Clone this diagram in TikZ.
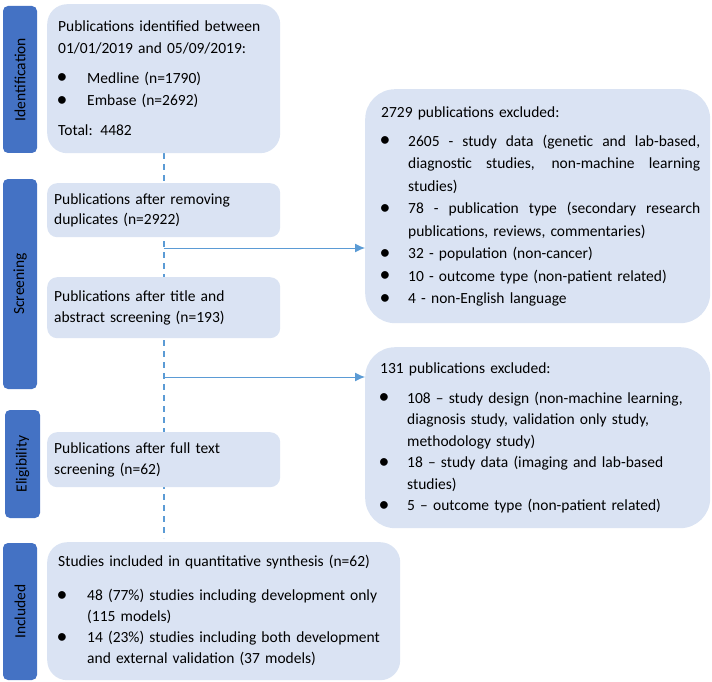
\documentclass[tikz,border=0pt]{standalone}
\usepackage{fontspec}
\setmainfont{Carlito}
\usepackage{tikz}
\usetikzlibrary{shapes,arrows.meta,positioning,calc}

\definecolor{barblue}{HTML}{4472C4}
\definecolor{boxblue}{HTML}{DAE3F3}
\definecolor{lineblue}{HTML}{5B9BD5}

% list pieces used inside a tabular
\newcommand{\bul}{\hspace{-1.5pt}\raisebox{-0.1ex}{\scalebox{1.4}{\textbullet}}}
\newcommand{\hd}[1]{\multicolumn{2}{@{}l@{}}{#1}}
\newcommand{\jline}[1]{{\spaceskip=3.5pt plus 1fil\hbox to 292pt{#1}}}
\newenvironment{boxlist}[1][28pt]{\begin{tabular}{@{}p{#1}@{}l@{}}}{\end{tabular}}

\tikzset{
  stagebar/.style={draw=none, fill=barblue, rounded corners=5pt, rotate=90,
    minimum height=34pt, inner sep=0pt, font=\fontsize{15.5}{18}\selectfont},
  boxtext/.style={execute at begin node={\raggedright\parindent=0pt}},
  bigbox/.style={draw=none, fill=boxblue, anchor=north west, boxtext,
    inner xsep=11pt, inner ysep=0pt, font=\fontsize{15.5}{22.5}\selectfont},
  smallbox/.style={draw=none, fill=boxblue, anchor=north west, boxtext,
    rounded corners=10pt, inner xsep=7pt, inner ysep=0pt,
    text width=219pt, minimum width=233pt, font=\fontsize{15.5}{20.5}\selectfont},
  flowline/.style={draw=lineblue, line width=2pt, dash pattern=on 6pt off 5pt},
  flowarrow/.style={draw=lineblue, line width=1pt, -{Latex[length=10pt,width=9pt]}}
}

\begin{document}
\begin{tikzpicture}[x=1pt, y=-1pt]
  \useasboundingbox (0,0) rectangle (712,682);

  % stage bars
  \node[stagebar, minimum width=147pt] (barid) at (20,79.5) {Identification};
  \node[stagebar, minimum width=210pt] (barscr) at (20,284) {Screening};
  \node[stagebar, minimum width=108pt, minimum height=35pt] (barelig) at (22.5,464) {Eligibility};
  \node[stagebar, minimum width=137pt] (barincl) at (20,611.5) {Included};

  % dashed flow line, drawn behind the boxes
  \coordinate (top) at (163.5,153);
  \coordinate (bottom) at (163.5,538);
  \draw[flowline] (top) -- (bottom);

  \node[bigbox, rounded corners=20pt, text width=211pt, minimum width=233pt,
    minimum height=149pt] (ident) at (47,4) {%
    \begin{boxlist}[29pt]
      \hd{Publications identified between}\\
      \hd{01/01/2019 and 05/09/2019:}\\[7pt]
      \bul & Medline (n=1790)\\
      \bul & Embase (n=2692)\\[7pt]
      \hd{Total: 4482}
    \end{boxlist}};

  \node[smallbox, minimum height=54pt] (dupl) at (47,183) {%
    Publications after removing\\duplicates (n=2922)};

  \node[smallbox, minimum height=61pt] (title) at (47,277) {%
    Publications after title and\\abstract screening (n=193)};

  \node[smallbox, minimum height=55pt] (full) at (47,432) {%
    Publications after full text\\screening (n=62)};

  \node[bigbox, rounded corners=30pt, inner xsep=16pt, text width=313pt,
    minimum width=345pt, minimum height=234pt] (excla) at (365,89) {%
    \begin{boxlist}[27pt]
      \hd{2729 publications excluded:}\\[6pt]
      \bul & \jline{2605 - study data (genetic and lab-based,}\\
           & \jline{diagnostic studies, non-machine learning}\\
           & studies)\\
      \bul & \jline{78 - publication type (secondary research}\\
           & publications, reviews, commentaries)\\
      \bul & 32 - population (non-cancer)\\
      \bul & 10 - outcome type (non-patient related)\\
      \bul & 4 - non-English language
    \end{boxlist}};

  \node[bigbox, rounded corners=30pt, inner xsep=15pt, text width=315pt,
    minimum width=345pt, minimum height=181pt,
    font=\fontsize{15.5}{21.5}\selectfont] (exclb) at (365,347) {%
    \begin{boxlist}[27pt]
      \hd{131 publications excluded:}\\[8pt]
      \bul & 108 -- study design (non-machine learning,\\
           & diagnosis study, validation only study,\\
           & methodology study)\\
      \bul & 18 -- study data (imaging and lab-based\\
           & studies)\\
      \bul & 5 -- outcome type (non-patient related)
    \end{boxlist}};

  \node[bigbox, rounded corners=20pt, text width=331pt, minimum width=353pt,
    minimum height=138pt, font=\fontsize{15.5}{21}\selectfont] (incl) at (47,542) {%
    \begin{boxlist}[29pt]
      \hd{Studies included in quantitative synthesis (n=62)}\\[13pt]
      \bul & 48 (77\%) studies including development only\\
           & (115 models)\\
      \bul & 14 (23\%) studies including both development\\
           & and external validation (37 models)
    \end{boxlist}};

  % exclusion arrows
  \coordinate (splita) at (163.5,248);
  \coordinate (splitb) at (163.5,377);
  \draw[flowarrow] (splita) -- (splita -| excla.west);
  \draw[flowarrow] (splitb) -- (splitb -| exclb.west);
\end{tikzpicture}
\end{document}
